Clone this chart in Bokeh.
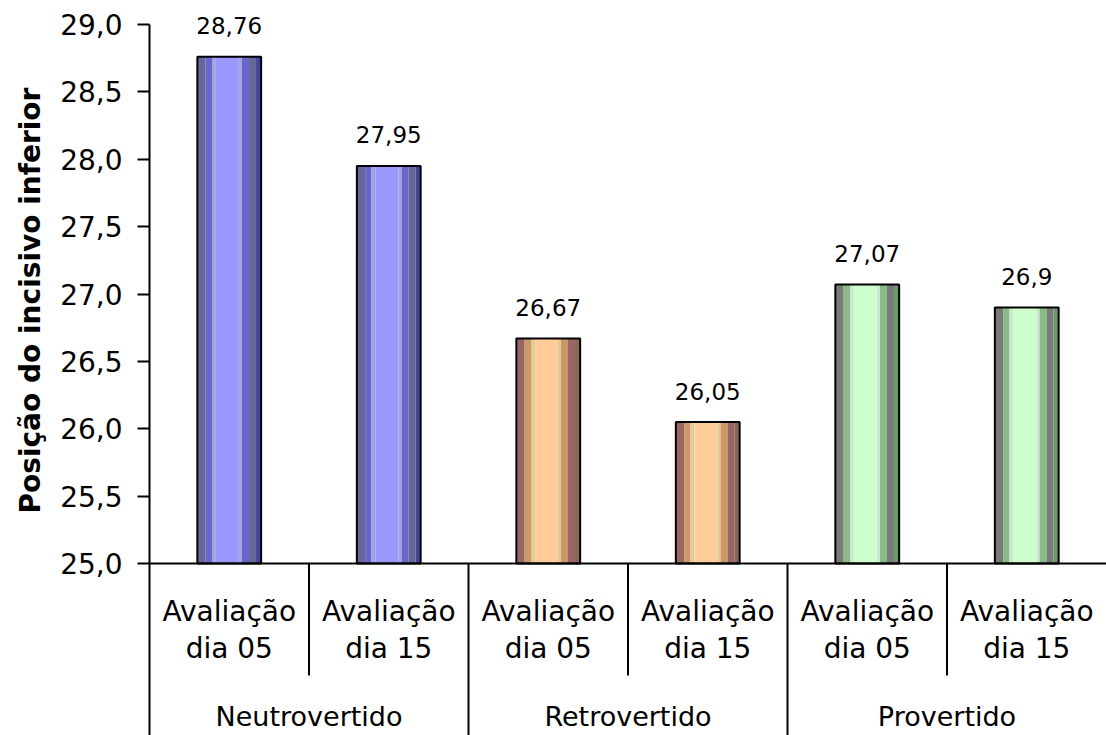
from bokeh.plotting import figure
from bokeh.models import Range1d, FixedTicker, Span, Title
from bokeh.core.properties import value
from bokeh.embed import file_html
from bokeh.resources import INLINE

# ---- data ----
groups = ["Neutrovertido", "Retrovertido", "Provertido"]
sub_line1 = ["Avaliação", "Avaliação", "Avaliação", "Avaliação", "Avaliação", "Avaliação"]
sub_line2 = ["dia 05", "dia 15", "dia 05", "dia 15", "dia 05", "dia 15"]
values = [28.76, 27.95, 26.67, 26.05, 27.07, 26.9]
value_labels = ["28,76", "27,95", "26,67", "26,05", "27,07", "26,9"]
y_ticks = [25.0, 25.5, 26.0, 26.5, 27.0, 27.5, 28.0, 28.5, 29.0]
y_tick_labels = ["25,0", "25,5", "26,0", "26,5", "27,0", "27,5", "28,0", "28,5", "29,0"]
y_title = "Posição do incisivo inferior"

# ---- styling / layout ----
W, H = 1106, 735
FRAME_LEFT = 149
PX_TOP = 24            # pixel row of value 29
PX_AXIS = 563          # pixel row of value 25
Y_MIN_V, Y_MAX_V = 25.0, 29.0
px_per_unit = (PX_AXIS - PX_TOP) / (Y_MAX_V - Y_MIN_V)
y_start = Y_MIN_V - (H - PX_AXIS) / px_per_unit
y_end = Y_MAX_V + PX_TOP / px_per_unit

# cylinder-like stripe profile (fraction of bar width, shade key)
profile = [("d2", 0.13), ("m", 0.10), ("l2", 0.06), ("c", 0.36),
           ("l2", 0.05), ("m", 0.11), ("d2", 0.11), ("d3", 0.08)]
palettes = [
    {"d2": "#666699", "m": "#6666cc", "l2": "#a3a3dd", "c": "#9999ff", "d3": "#444499"},
    {"d2": "#996666", "m": "#cc9966", "l2": "#ddcc99", "c": "#ffcc99", "d3": "#886655"},
    {"d2": "#7a7a7a", "m": "#88bb88", "l2": "#cce8cc", "c": "#ccffcc", "d3": "#669966"},
]
BAR_W = 0.40
FONT = "DejaVu Sans"

p = figure(width=W, height=H, output_backend="svg", toolbar_location=None,
           x_range=Range1d(0, 6), y_range=Range1d(y_start, y_end),
           x_axis_type=None,
           min_border_left=FRAME_LEFT, min_border_right=0,
           min_border_top=0, min_border_bottom=0)
p.outline_line_color = None
p.ygrid.visible = False
p.background_fill_color = "white"
p.border_fill_color = "white"

ax = p.yaxis[0]
ax.ticker = FixedTicker(ticks=y_ticks, minor_ticks=[])
ax.bounds = (y_start, Y_MAX_V)
ax.major_label_overrides = {t: l for t, l in zip(y_ticks, y_tick_labels)}
ax.axis_line_color = "black"
ax.axis_line_width = 2
ax.major_tick_line_color = "black"
ax.major_tick_line_width = 2
ax.major_tick_out = 12
ax.major_tick_in = 0
ax.minor_tick_line_color = None
ax.major_label_standoff = 15
ax.major_label_text_font = FONT
ax.major_label_text_font_size = "28px"
ax.major_label_text_color = "black"

# bars as vertical stripes
centers = [i + 0.5 for i in range(len(values))]
for i, (c, v) in enumerate(zip(centers, values)):
    pal = palettes[i // 2]
    left = c - BAR_W / 2
    for key, frac in profile:
        w = frac * BAR_W
        p.vbar(x=[left + w / 2], width=w, top=[v], bottom=Y_MIN_V,
               fill_color=pal[key], line_color=None)
        left += w
p.vbar(x=centers, width=BAR_W, top=values, bottom=Y_MIN_V,
       fill_color=None, line_color="black", line_width=2)

# value labels
p.text(x=centers, y=values, text=value_labels, text_align="center",
       text_baseline="alphabetic", y_offset=-31,
       text_font=value(FONT), text_font_size="23px", text_color="black")

# x axis line at 25
p.add_layout(Span(location=Y_MIN_V, dimension="width", line_color="black", line_width=2))

# separators
sub_len = (675 - PX_AXIS) / px_per_unit
p.segment(x0=[1, 3, 5], y0=[Y_MIN_V] * 3, x1=[1, 3, 5], y1=[Y_MIN_V - sub_len] * 3,
          line_color="black", line_width=2)
p.segment(x0=[2, 4], y0=[Y_MIN_V] * 2, x1=[2, 4], y1=[y_start] * 2,
          line_color="black", line_width=2)

# category labels
p.text(x=centers, y=[Y_MIN_V] * 6, text=sub_line1, y_offset=48,
       text_align="center", text_baseline="alphabetic",
       text_font=value(FONT), text_font_size="28px", text_color="black")
p.text(x=centers, y=[Y_MIN_V] * 6, text=sub_line2, y_offset=85,
       text_align="center", text_baseline="alphabetic",
       text_font=value(FONT), text_font_size="28px", text_color="black")
p.text(x=[1, 3, 5], y=[Y_MIN_V] * 3, text=groups, y_offset=153,
       text_align="center", text_baseline="alphabetic",
       text_font=value(FONT), text_font_size="27px", text_color="black")

# y title
p.add_layout(Title(text=y_title, align="left", offset=222, standoff=21,
                   text_font=FONT, text_font_style="bold", text_font_size="28px",
                   text_color="black"), "left")

open("out.html", "w").write(file_html(p, INLINE))
